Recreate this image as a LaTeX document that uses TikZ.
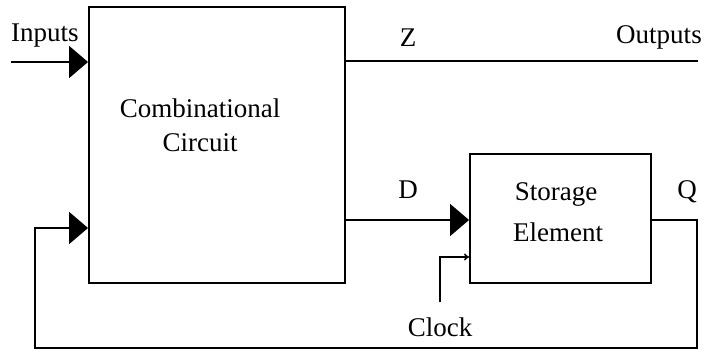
\documentclass[tikz,border=0pt]{standalone}
\usepackage{fontspec}
\setmainfont{Liberation Serif}
\usetikzlibrary{arrows.meta}
\begin{document}
\begin{tikzpicture}[x=1pt,y=-1pt,
  wire/.style={line width=1.8pt, line cap=rect},
  big/.style={-{Triangle[length=19pt,width=32pt]}},
  lbl/.style={font=\fontsize{27}{32}\selectfont, inner sep=0pt},
  blk/.style={draw, line width=1.9pt, inner sep=0pt}]
\useasboundingbox (0,0) rectangle (705,350);
\node[blk, minimum width=256pt, minimum height=276pt] (comb) at (217,145) {};
\node[blk, minimum width=181pt, minimum height=129pt] (stor) at (560.5,218.5) {};
\node[lbl] (ct1) at (200,108) {Combinational};
\node[lbl] (ct2) at (200,143) {Circuit};
\node[lbl] (st1) at (556,194) {Storage};
\node[lbl] (st2) at (558,232) {Element};
\node[lbl] (inl) at (45,36) {Inputs};
\node[lbl] (zl) at (408,38) {Z};
\node[lbl] (outl) at (659,37) {Outputs};
\node[lbl] (dl) at (408,190) {D};
\node[lbl] (ql) at (687,192) {Q};
\node[lbl] (ckl) at (440,327) {Clock};
\coordinate (inS) at (12,62);
\coordinate (outE) at (697,61);
\coordinate (qR) at (697,220);
\coordinate (qB) at (697,348);
\coordinate (fL) at (35,348);
\coordinate (fT) at (35,228);
\coordinate (ck0) at (440,302);
\coordinate (ck1) at (440,257);
\draw[wire, big] (inS) -- (inS -| comb.west);
\draw[wire] (comb.east |- outE) -- (outE);
\draw[wire, big] (comb.east |- qR) -- (stor.west |- qR);
\draw[wire] (stor.east |- qR) -- (qR) -- (qB) -- (fL) -- (fT);
\draw[wire, big] (fT) -- (fT -| comb.west);
\draw[line width=1.6pt, -{To[length=5pt,width=7pt]}] (ck0) -- (ck1) -- (ck1 -| stor.west);
\end{tikzpicture}
\end{document}
